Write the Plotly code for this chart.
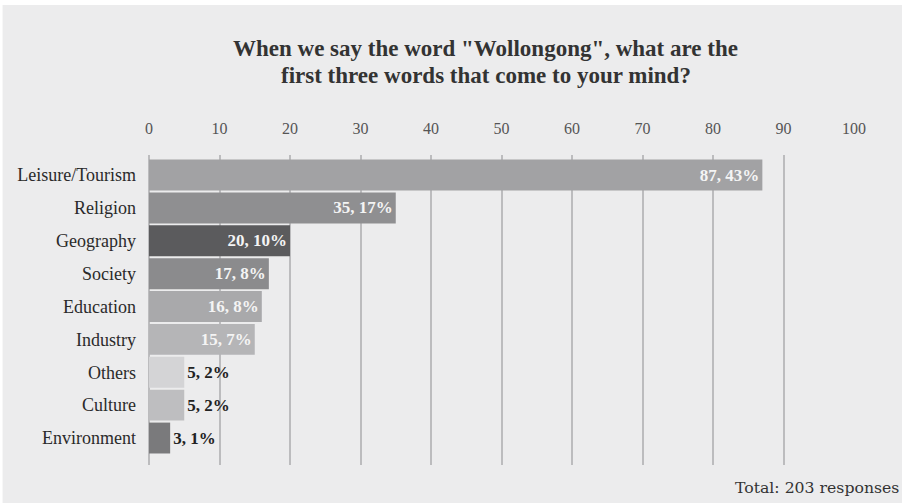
import plotly.graph_objects as go

categories = ["Leisure/Tourism", "Religion", "Geography", "Society", "Education",
              "Industry", "Others", "Culture", "Environment"]
counts = [87, 35, 20, 17, 16, 15, 5, 5, 3]
percents = [43, 17, 10, 8, 8, 7, 2, 2, 1]
bar_colors = ["#a2a2a4", "#8f8f91", "#5b5b5d", "#8b8b8d", "#a9a9ab",
              "#b5b5b7", "#d4d4d6", "#bebec0", "#7a7a7c"]
tick_values = [0, 10, 20, 30, 40, 50, 60, 70, 80, 90, 100]
total_responses = 203
title_lines = ["When we say the word \"Wollongong\", what are the",
               "first three words that come to your mind?"]

SERIF = "Liberation Serif, Times New Roman, serif"

labels = [f"{c}, {p}%" for c, p in zip(counts, percents)]
positions = ["inside" if c >= 10 else "outside" for c in counts]
label_colors = ["#f4f4f4" if c >= 10 else "#222222" for c in counts]

fig = go.Figure(go.Bar(
    x=counts,
    y=categories,
    orientation="h",
    marker=dict(color=bar_colors, line=dict(width=0)),
    text=labels,
    textposition=positions,
    insidetextanchor="end",
    textfont=dict(family=SERIF, size=17, color=label_colors),
    outsidetextfont=dict(family=SERIF, size=17, color="#222222"),
    cliponaxis=False,
    texttemplate="<b>%{text}</b>",
))

# two-line heading, each line placed on its own
title_annotations = [
    dict(text=f"<b>{line}</b>", xref="paper", yref="paper", x=0.478, y=yy,
         xanchor="center", yanchor="middle", showarrow=False,
         font=dict(family=SERIF, size=23, color="#333333"))
    for line, yy in zip(title_lines, [1.345, 1.258])
]

fig.update_layout(
    width=902, height=503,
    paper_bgcolor="#ececed",
    plot_bgcolor="#ececed",
    margin=dict(l=149, r=48, t=155, b=38),
    bargap=0.06,
    showlegend=False,
    xaxis=dict(
        side="top",
        range=[0, 100],
        tickvals=tick_values,
        showgrid=True, gridcolor="#bcbcbe", gridwidth=1.5,
        zeroline=True, zerolinecolor="#bcbcbe", zerolinewidth=1.5,
        showline=False,
        ticks="", ticklabelstandoff=17,
        tickfont=dict(family=SERIF, size=16, color="#555555"),
        fixedrange=True,
    ),
    yaxis=dict(
        type="category",
        categoryorder="array", categoryarray=categories,
        range=[8.82, -0.61],
        showgrid=False, zeroline=False, showline=False,
        ticks="", ticklabelstandoff=12,
        tickfont=dict(family=SERIF, size=18, color="#2a2a2a"),
        fixedrange=True,
    ),
    shapes=[
        # white strip along the top edge of the page
        dict(type="rect", xref="paper", yref="paper", x0=-0.3, x1=1.2, y0=1.484, y1=1.6,
             fillcolor="white", line=dict(width=0), layer="below"),
        # white strip along the left edge of the page
        dict(type="rect", xref="paper", yref="paper", x0=-0.3, x1=-0.2077, y0=-0.2, y1=1.6,
             fillcolor="white", line=dict(width=0), layer="below"),
    ],
    annotations=title_annotations + [
        dict(text=f"Total: {total_responses} responses", xref="paper", yref="paper",
             x=1.066, y=-0.035, xanchor="right", yanchor="top", showarrow=False,
             font=dict(family="DejaVu Serif, serif", size=15.7, color="#333333")),
    ],
)

fig.write_html("out.html")
